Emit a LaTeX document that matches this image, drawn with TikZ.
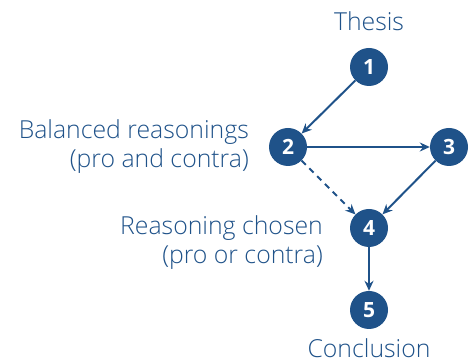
\documentclass[tikz,border=0pt]{standalone}
\usepackage{fontspec}
\setmainfont{Open Sans}[UprightFont=* Light, BoldFont=* Bold]
\usetikzlibrary{arrows.meta}
\definecolor{dblue}{HTML}{1F5289}
\begin{document}
\begin{tikzpicture}[x=1pt,y=1pt,
  num/.style={circle,fill=dblue,draw=none,minimum size=38pt,inner sep=0pt,text=white,font=\fontsize{21}{21}\selectfont\bfseries},
  lbl/.style={text=dblue,font=\fontsize{24.8}{29}\selectfont,inner sep=0pt},
  conn/.style={draw=dblue,line width=2pt,-{Stealth[length=10pt,width=9pt]}}]
\useasboundingbox (0,0) rectangle (474,363);
\node[num] (n1) at (369,296) {1};
\node[num] (n2) at (288,216) {2};
\node[num] (n3) at (449,216) {3};
\node[num] (n4) at (369,135) {4};
\node[num] (n5) at (369,53) {5};
\node[lbl] (t1) at (369,342) {Thesis};
\node[lbl,align=right,anchor=east] (t2) at (249,216) {Balanced reasonings\\(pro and contra)};
\node[lbl,align=right,anchor=east] (t4) at (323,120) {Reasoning chosen\\(pro or contra)};
\node[lbl] (t5) at (369,15) {Conclusion};
\draw[conn] (n1) -- (n2);
\draw[conn] (n2) -- (n3);
\draw[conn] (n3) -- (n4);
\draw[conn,dash pattern=on 6pt off 5pt] (n2) -- (n4);
\draw[conn] (n4) -- (n5);
\end{tikzpicture}
\end{document}
